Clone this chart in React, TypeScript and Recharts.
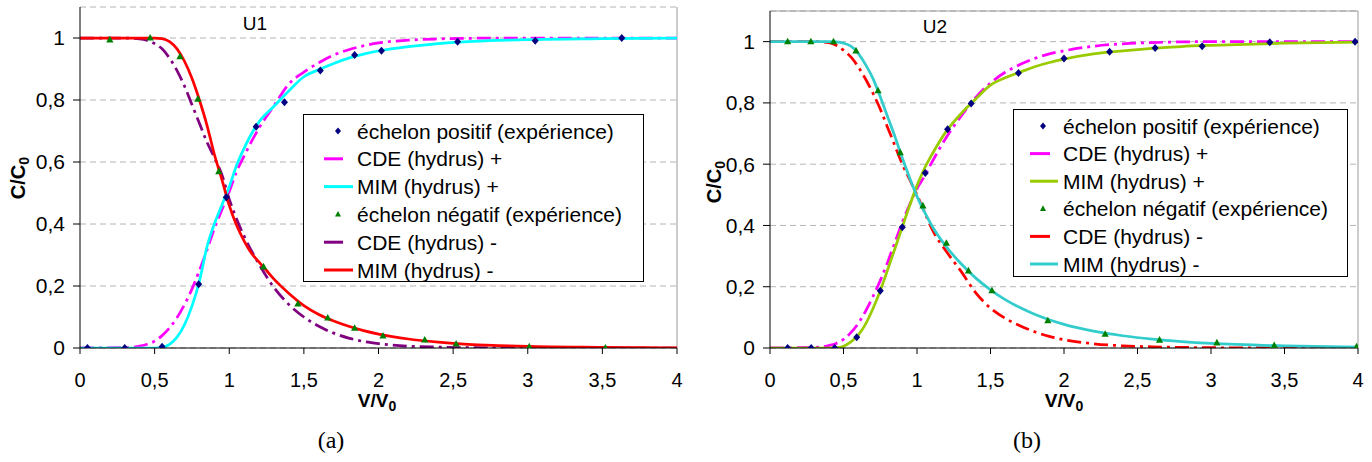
import React from 'react';
import { ComposedChart, Line, Scatter, XAxis, YAxis, CartesianGrid, ReferenceLine } from 'recharts';

const FONT = '"Liberation Sans", Arial, sans-serif';

const xTicks = [0, 0.5, 1, 1.5, 2, 2.5, 3, 3.5, 4];
const yTicks = [0, 0.2, 0.4, 0.6, 0.8, 1];

// ---------- U1 ----------
const u1PosExpX = [0.05, 0.30, 0.55, 0.795, 0.98, 1.18, 1.37, 1.61, 1.84, 2.02, 2.53, 3.05, 3.63];
const u1PosExpY = [0, 0, 0.004, 0.206, 0.486, 0.714, 0.793, 0.895, 0.945, 0.959, 0.988, 0.991, 1.0];
const u1NegExpX = [0.20, 0.47, 0.67, 0.79, 0.93, 1.23, 1.46, 1.66, 1.84, 2.03, 2.31, 2.52, 3.01, 3.52];
const u1NegExpY = [0.994, 1.0, 0.94, 0.803, 0.569, 0.262, 0.142, 0.097, 0.064, 0.039, 0.026, 0.013, 0.004, 0.0];

const u1CdePosX = [0, 0.3, 0.4, 0.45, 0.5, 0.55, 0.6, 0.65, 0.7, 0.75, 0.8, 0.85, 0.9, 0.95, 1.0, 1.05, 1.1, 1.2, 1.3, 1.4, 1.5, 1.6, 1.7, 1.8, 1.9, 2.0, 2.2, 2.4, 2.6, 3.0, 4.0];
const u1CdePosY = [0, 0.001, 0.006, 0.012, 0.022, 0.04, 0.065, 0.098, 0.14, 0.19, 0.25, 0.315, 0.385, 0.445, 0.505, 0.57, 0.62, 0.71, 0.782, 0.852, 0.89, 0.92, 0.945, 0.962, 0.975, 0.984, 0.993, 0.997, 0.999, 1.0, 1.0];

const u1MimPosX = [0, 0.5, 0.55, 0.6, 0.65, 0.7, 0.75, 0.8, 0.85, 0.9, 0.95, 1.0, 1.05, 1.1, 1.2, 1.3, 1.4, 1.5, 1.6, 1.7, 1.8, 1.9, 2.0, 2.2, 2.4, 2.6, 2.8, 3.0, 3.5, 4.0];
const u1MimPosY = [0, 0, 0.002, 0.012, 0.035, 0.075, 0.135, 0.215, 0.325, 0.4, 0.46, 0.52, 0.59, 0.645, 0.73, 0.78, 0.83, 0.875, 0.898, 0.918, 0.935, 0.948, 0.958, 0.972, 0.982, 0.988, 0.992, 0.995, 0.998, 1.0];

const u1CdeNegX = [0, 0.3, 0.4, 0.45, 0.5, 0.55, 0.6, 0.65, 0.7, 0.75, 0.8, 0.85, 0.9, 0.95, 1.0, 1.05, 1.1, 1.2, 1.3, 1.4, 1.5, 1.6, 1.7, 1.8, 1.9, 2.0, 2.2, 2.4, 2.6, 3.0, 4.0];
const u1CdeNegY = [1, 1, 0.997, 0.992, 0.982, 0.965, 0.935, 0.895, 0.845, 0.785, 0.725, 0.665, 0.615, 0.56, 0.48, 0.415, 0.36, 0.27, 0.195, 0.14, 0.1, 0.07, 0.048, 0.032, 0.021, 0.014, 0.006, 0.003, 0.001, 0, 0];

const u1MimNegX = [0, 0.5, 0.55, 0.6, 0.65, 0.7, 0.75, 0.8, 0.85, 0.9, 0.95, 1.0, 1.05, 1.1, 1.15, 1.2, 1.25, 1.3, 1.4, 1.5, 1.6, 1.7, 1.8, 1.9, 2.0, 2.2, 2.4, 2.6, 2.8, 3.0, 3.5, 4.0];
const u1MimNegY = [1, 1, 0.998, 0.988, 0.965, 0.925, 0.87, 0.8, 0.72, 0.625, 0.545, 0.46, 0.395, 0.345, 0.305, 0.277, 0.25, 0.222, 0.176, 0.137, 0.108, 0.087, 0.07, 0.056, 0.045, 0.029, 0.019, 0.012, 0.008, 0.005, 0.002, 0.0];

// ---------- U2 ----------
const u2PosExpX = [0.12, 0.28, 0.44, 0.59, 0.75, 0.90, 1.056, 1.208, 1.368, 1.69, 2.00, 2.31, 2.62, 2.94, 3.40, 3.98];
const u2PosExpY = [0, 0, 0, 0.035, 0.187, 0.394, 0.571, 0.714, 0.798, 0.898, 0.945, 0.967, 0.979, 0.985, 0.998, 1.0];
const u2NegExpX = [0.12, 0.278, 0.432, 0.585, 0.735, 0.886, 1.04, 1.20, 1.35, 1.51, 1.89, 2.28, 2.65, 3.04, 3.43, 3.99];
const u2NegExpY = [1.0, 1.0, 1.0, 0.97, 0.84, 0.638, 0.464, 0.342, 0.252, 0.187, 0.089, 0.045, 0.026, 0.017, 0.008, 0.004];

const u2CdePosX = [0, 0.3, 0.4, 0.45, 0.5, 0.55, 0.6, 0.65, 0.7, 0.75, 0.8, 0.85, 0.9, 0.95, 1.0, 1.05, 1.1, 1.2, 1.3, 1.4, 1.5, 1.6, 1.7, 1.8, 1.9, 2.0, 2.2, 2.4, 2.6, 3.0, 4.0];
const u2CdePosY = [0, 0.002, 0.008, 0.015, 0.028, 0.05, 0.08, 0.12, 0.168, 0.22, 0.28, 0.345, 0.41, 0.468, 0.52, 0.56, 0.605, 0.688, 0.757, 0.818, 0.865, 0.9, 0.925, 0.945, 0.96, 0.97, 0.985, 0.993, 0.997, 1.0, 1.0];

const u2MimPosX = [0, 0.4, 0.45, 0.5, 0.55, 0.6, 0.65, 0.7, 0.75, 0.8, 0.85, 0.9, 0.95, 1.0, 1.05, 1.1, 1.2, 1.3, 1.4, 1.5, 1.6, 1.7, 1.8, 1.9, 2.0, 2.2, 2.4, 2.6, 2.8, 3.0, 3.5, 4.0];
const u2MimPosY = [0, 0, 0.001, 0.006, 0.02, 0.042, 0.078, 0.128, 0.187, 0.255, 0.325, 0.395, 0.465, 0.53, 0.585, 0.63, 0.708, 0.765, 0.813, 0.858, 0.882, 0.9, 0.918, 0.932, 0.943, 0.96, 0.97, 0.978, 0.984, 0.988, 0.995, 0.998];

const u2CdeNegX = [0, 0.3, 0.4, 0.45, 0.5, 0.55, 0.6, 0.65, 0.7, 0.75, 0.8, 0.85, 0.9, 0.95, 1.0, 1.05, 1.1, 1.2, 1.3, 1.4, 1.5, 1.6, 1.7, 1.8, 1.9, 2.0, 2.2, 2.4, 2.6, 3.0, 3.5, 4.0];
const u2CdeNegY = [1, 1, 0.997, 0.988, 0.972, 0.95, 0.918, 0.878, 0.832, 0.78, 0.72, 0.66, 0.6, 0.55, 0.5, 0.445, 0.39, 0.315, 0.25, 0.18, 0.13, 0.097, 0.073, 0.053, 0.038, 0.027, 0.014, 0.007, 0.004, 0.001, 0, 0];

const u2MimNegX = [0, 0.4, 0.45, 0.5, 0.55, 0.6, 0.65, 0.7, 0.75, 0.8, 0.85, 0.9, 0.95, 1.0, 1.05, 1.1, 1.2, 1.3, 1.4, 1.5, 1.6, 1.7, 1.8, 1.9, 2.0, 2.2, 2.4, 2.6, 2.8, 3.0, 3.5, 4.0];
const u2MimNegY = [1, 1, 0.999, 0.995, 0.985, 0.962, 0.925, 0.88, 0.82, 0.755, 0.69, 0.62, 0.555, 0.495, 0.445, 0.4, 0.33, 0.275, 0.228, 0.19, 0.158, 0.132, 0.11, 0.092, 0.077, 0.055, 0.04, 0.029, 0.021, 0.015, 0.007, 0.003];

const legendLabels = [
  'échelon positif (expérience)',
  'CDE (hydrus) +',
  'MIM (hydrus) +',
  'échelon négatif (expérience)',
  'CDE (hydrus) -',
  'MIM (hydrus) -',
];

const NAVY = '#000080';
const GREEN = '#008000';
const MAGENTA = '#FF00FF';
const CDE_DASH = '14 5 3 5';

const pts = (xs: number[], ys: number[]) => xs.map((x, i) => ({ x, y: ys[i] }));
const fmt = (v: number) => String(v).replace('.', ',');

const Diamond = (props: any) => {
  const { cx, cy } = props;
  if (cx == null || cy == null) return null;
  return <path d={`M${cx},${cy - 4}L${cx + 3.5},${cy}L${cx},${cy + 4}L${cx - 3.5},${cy}Z`} fill={NAVY} />;
};
const Triangle = (props: any) => {
  const { cx, cy } = props;
  if (cx == null || cy == null) return null;
  return <path d={`M${cx},${cy - 4}L${cx + 3.6},${cy + 2.6}L${cx - 3.6},${cy + 2.6}Z`} fill={GREEN} />;
};

type PanelCfg = {
  left: number;
  width: number;
  marginTop: number;
  marginRight: number;
  topBorder: boolean;
  posExp: { x: number; y: number }[];
  negExp: { x: number; y: number }[];
  cdePos: { x: number; y: number }[];
  mimPos: { x: number; y: number }[];
  cdeNeg: { x: number; y: number }[];
  mimNeg: { x: number; y: number }[];
  mimPosColor: string;
  cdeNegColor: string;
  mimNegColor: string;
};

function Panel(c: PanelCfg) {
  return (
    <div style={{ position: 'absolute', left: c.left, top: 0 }}>
      <ComposedChart
        width={c.width}
        height={400}
        margin={{ top: c.marginTop, right: c.marginRight, bottom: 0, left: 0 }}
      >
        <CartesianGrid vertical={false} stroke="#b4b4b4" strokeDasharray="6 4" />
        <XAxis
          dataKey="x"
          type="number"
          domain={[0, 4]}
          ticks={xTicks}
          interval={0}
          allowDataOverflow
          tickFormatter={fmt}
          height={52}
          tickSize={6}
          tickMargin={19}
          axisLine={{ stroke: '#000' }}
          tickLine={{ stroke: '#000' }}
          tick={{ fontSize: 20, fill: '#000', fontFamily: FONT }}
        />
        <YAxis
          type="number"
          domain={[0, 1.1]}
          ticks={yTicks}
          interval={0}
          allowDataOverflow
          tickFormatter={fmt}
          width={80}
          tickSize={7}
          tickMargin={8}
          axisLine={{ stroke: '#000' }}
          tickLine={{ stroke: '#000' }}
          tick={{ fontSize: 21, fill: '#000', fontFamily: FONT }}
        />
        <ReferenceLine x={4} stroke="#9a9a9a" strokeWidth={1} ifOverflow="visible" />
        {c.topBorder && <ReferenceLine y={1.1} stroke="#9a9a9a" strokeWidth={1} ifOverflow="visible" />}
        <Line data={c.cdeNeg} dataKey="y" type="monotone" stroke={c.cdeNegColor} strokeWidth={2.75} strokeDasharray={CDE_DASH} dot={false} activeDot={false} isAnimationActive={false} />
        <Line data={c.cdePos} dataKey="y" type="monotone" stroke={MAGENTA} strokeWidth={2.75} strokeDasharray={CDE_DASH} dot={false} activeDot={false} isAnimationActive={false} />
        <Line data={c.mimPos} dataKey="y" type="monotone" stroke={c.mimPosColor} strokeWidth={2.75} dot={false} activeDot={false} isAnimationActive={false} />
        <Line data={c.mimNeg} dataKey="y" type="monotone" stroke={c.mimNegColor} strokeWidth={2.75} dot={false} activeDot={false} isAnimationActive={false} />
        <Scatter data={c.posExp} dataKey="y" fill={NAVY} shape={Diamond} isAnimationActive={false} />
        <Scatter data={c.negExp} dataKey="y" fill={GREEN} shape={Triangle} isAnimationActive={false} />
      </ComposedChart>
    </div>
  );
}

type LegendCfg = {
  x: number; y: number; w: number; h: number;
  row0: number; step: number;
  lineX: number; cdeEnd: number; mimEnd: number; markX: number; textX: number;
  mimPosColor: string; cdeNegColor: string; mimNegColor: string;
};

function LegendBox(l: LegendCfg) {
  const kinds = ['diamond', 'cde', 'mim', 'triangle', 'cde', 'mim'];
  const colors = [NAVY, MAGENTA, l.mimPosColor, GREEN, l.cdeNegColor, l.mimNegColor];
  return (
    <g>
      <rect x={l.x} y={l.y} width={l.w} height={l.h} fill="#fff" stroke="#000" strokeWidth={1} />
      {legendLabels.map((lab, i) => {
        const cy = l.row0 + i * l.step;
        const k = kinds[i];
        let mark: React.ReactNode = null;
        if (k === 'diamond') mark = <path d={`M${l.markX},${cy - 3.5}L${l.markX + 3},${cy}L${l.markX},${cy + 3.5}L${l.markX - 3},${cy}Z`} fill={NAVY} />;
        else if (k === 'triangle') mark = <path d={`M${l.markX},${cy - 3.5}L${l.markX + 3},${cy + 2.2}L${l.markX - 3},${cy + 2.2}Z`} fill={GREEN} />;
        else mark = <line x1={l.lineX} x2={k === 'cde' ? l.cdeEnd : l.mimEnd} y1={cy} y2={cy} stroke={colors[i]} strokeWidth={3} />;
        return (
          <g key={i}>
            {mark}
            <text x={l.textX} y={cy} dy="0.36em" fontSize={21} fontFamily={FONT} fill="#000">{lab}</text>
          </g>
        );
      })}
    </g>
  );
}

export default function App() {
  const u1 = { mimPosColor: '#00FFFF', cdeNegColor: '#800080', mimNegColor: '#FF0000' };
  const u2 = { mimPosColor: '#99CC00', cdeNegColor: '#FF0000', mimNegColor: '#33CCCC' };
  return (
    <div style={{ position: 'absolute', left: 0, top: 0, width: 1372, height: 462, background: '#fff', fontFamily: FONT, overflow: 'hidden' }}>
      <Panel
        left={0} width={690} marginTop={7} marginRight={13} topBorder={false}
        posExp={pts(u1PosExpX, u1PosExpY)} negExp={pts(u1NegExpX, u1NegExpY)}
        cdePos={pts(u1CdePosX, u1CdePosY)} mimPos={pts(u1MimPosX, u1MimPosY)}
        cdeNeg={pts(u1CdeNegX, u1CdeNegY)} mimNeg={pts(u1MimNegX, u1MimNegY)}
        {...u1}
      />
      <Panel
        left={690} width={682} marginTop={11} marginRight={14} topBorder={true}
        posExp={pts(u2PosExpX, u2PosExpY)} negExp={pts(u2NegExpX, u2NegExpY)}
        cdePos={pts(u2CdePosX, u2CdePosY)} mimPos={pts(u2MimPosX, u2MimPosY)}
        cdeNeg={pts(u2CdeNegX, u2CdeNegY)} mimNeg={pts(u2MimNegX, u2MimNegY)}
        {...u2}
      />
      <svg width={1372} height={462} style={{ position: 'absolute', left: 0, top: 0, pointerEvents: 'none' }}>
        <LegendBox x={303.5} y={114.5} w={340} h={167} row0={131} step={27.8} lineX={324} cdeEnd={343} mimEnd={353} markX={338} textX={357} {...u1} />
        <LegendBox x={1013.5} y={109.5} w={334} h={167} row0={126} step={27.6} lineX={1030} cdeEnd={1050} mimEnd={1058} markX={1043} textX={1063} {...u2} />

        <text x={255} y={30} fontSize={19} fontFamily={FONT} textAnchor="middle" fill="#000">U1</text>
        <text x={935} y={33} fontSize={19} fontFamily={FONT} textAnchor="middle" fill="#000">U2</text>

        <text transform="translate(25,178) rotate(-90)" textAnchor="middle" fontSize={20} fontWeight="bold" fontFamily={FONT} fill="#000">
          C/C<tspan fontSize={14} dy={4}>0</tspan>
        </text>
        <text transform="translate(721,182) rotate(-90)" textAnchor="middle" fontSize={20} fontWeight="bold" fontFamily={FONT} fill="#000">
          C/C<tspan fontSize={14} dy={4}>0</tspan>
        </text>

        <text x={377} y={407} textAnchor="middle" fontSize={19} fontWeight="bold" fontFamily={FONT} fill="#000">
          V/V<tspan fontSize={14} dy={4}>0</tspan>
        </text>
        <text x={1064} y={407} textAnchor="middle" fontSize={19} fontWeight="bold" fontFamily={FONT} fill="#000">
          V/V<tspan fontSize={14} dy={4}>0</tspan>
        </text>

        <text x={331} y={448} textAnchor="middle" fontSize={24} fontFamily='"Liberation Serif", "Times New Roman", serif' fill="#000">(a)</text>
        <text x={1027} y={448} textAnchor="middle" fontSize={24} fontFamily='"Liberation Serif", "Times New Roman", serif' fill="#000">(b)</text>
      </svg>
    </div>
  );
}
